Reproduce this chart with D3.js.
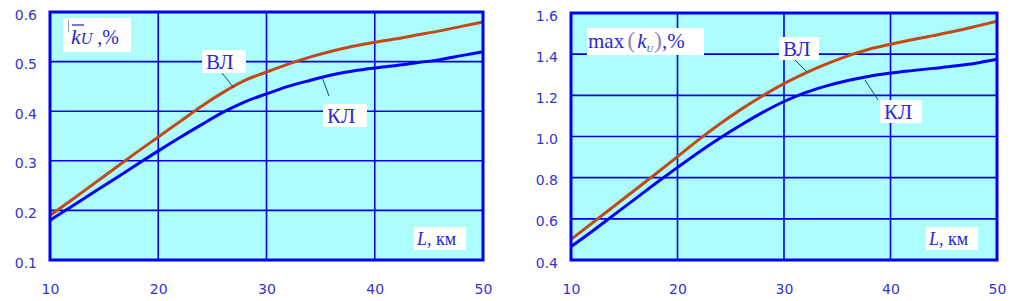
<!DOCTYPE html>
<html><head><meta charset="utf-8">
<script src="https://cdn.jsdelivr.net/npm/d3@7"></script>
<style>body{margin:0;background:#fff}svg{display:block}</style>
</head><body>
<svg id="c" width="1015" height="301"></svg>
<script>
const L = [10,12,14,16,18,20,22,24,26,28,30,32,34,36,38,40,42,44,46,48,50];
const vlMean = [0.19,0.221,0.253,0.285,0.317,0.348,0.379,0.41,0.438,0.462,0.479,0.495,0.509,0.521,0.531,0.539,0.546,0.554,0.562,0.571,0.58];
const klMean = [0.18,0.208,0.236,0.264,0.292,0.32,0.347,0.373,0.398,0.419,0.435,0.45,0.462,0.473,0.481,0.487,0.492,0.498,0.504,0.512,0.52];
const vlMax = [0.50,0.58,0.66,0.74,0.82,0.902,0.985,1.062,1.133,1.198,1.257,1.308,1.353,1.392,1.424,1.448,1.47,1.49,1.511,1.535,1.56];
const klMax = [0.465,0.54,0.618,0.696,0.774,0.85,0.924,0.993,1.057,1.117,1.17,1.213,1.246,1.272,1.293,1.308,1.32,1.331,1.342,1.356,1.375];
const xTicks = [10,20,30,40,50];
const yTicksMean = [0.1,0.2,0.3,0.4,0.5,0.6];
const yTicksMax = [0.4,0.6,0.8,1.0,1.2,1.4,1.6];

const svg = d3.select("#c");
const tickColor = "#3434d0", gridColor = "#0000e6", labColor = "#2a2ad0";

function panel(o){
  const x = d3.scaleLinear().domain([10,50]).range([o.x0,o.x1]);
  const y = d3.scaleLinear().domain(o.yDom).range([o.y1,o.y0]);
  const g = svg.append("g");
  g.append("rect").attr("x",o.x0).attr("y",o.y0).attr("width",o.x1-o.x0).attr("height",o.y1-o.y0).attr("fill","#adfdfd");
  g.selectAll(".gx").data(xTicks.slice(1,-1)).join("line").attr("x1",d=>x(d)).attr("x2",d=>x(d)).attr("y1",o.y0).attr("y2",o.y1).attr("stroke",gridColor).attr("stroke-width",1.6);
  g.selectAll(".gy").data(o.yTicks.slice(1,-1)).join("line").attr("y1",d=>y(d)).attr("y2",d=>y(d)).attr("x1",o.x0).attr("x2",o.x1).attr("stroke",gridColor).attr("stroke-width",1.6);
  const ax = g.append("g").attr("transform",`translate(0,${o.y1})`).call(d3.axisBottom(x).tickValues(xTicks).tickSize(0).tickPadding(23).tickFormat(d3.format("d")));
  ax.select(".domain").remove();
  ax.selectAll("text").attr("fill",tickColor).attr("font-family","DejaVu Sans").attr("font-size",14).attr("dy","0.8em");
  const ay = g.append("g").attr("transform",`translate(${o.x0},0)`).call(d3.axisLeft(y).tickValues(o.yTicks).tickSize(0).tickPadding(13).tickFormat(d3.format(".1f")));
  ay.select(".domain").remove();
  ay.selectAll("text").attr("fill",tickColor).attr("font-family","DejaVu Sans").attr("font-size",14).attr("dy","0.5em");
  function box(x0,y0,w,h){ g.append("rect").attr("x",x0).attr("y",y0).attr("width",w).attr("height",h).attr("fill","#fff"); }
  box(o.Lx-3,o.y1-33,52,23);
  const lt = g.append("text").attr("x",o.Lx).attr("y",o.y1-15).attr("font-family","Liberation Serif").attr("font-size",18).attr("fill",labColor);
  lt.append("tspan").attr("font-style","italic").text("L");
  lt.append("tspan").text(", км");
  const line = d3.line().x((d,i)=>x(L[i])).y(d=>y(d)).curve(d3.curveMonotoneX);
  g.append("path").datum(o.kl).attr("d",line).attr("fill","none").attr("stroke","#0000ff").attr("stroke-width",3);
  g.append("path").datum(o.vl).attr("d",line).attr("fill","none").attr("stroke","#c04a18").attr("stroke-width",3);
  g.append("rect").attr("x",o.x0).attr("y",o.y0).attr("width",o.x1-o.x0).attr("height",o.y1-o.y0).attr("fill","none").attr("stroke","#0000f0").attr("stroke-width",3);
  o.leaders.forEach(l=>g.append("line").attr("x1",l[0]).attr("y1",l[1]).attr("x2",l[2]).attr("y2",l[3]).attr("stroke","#1a4a6a").attr("stroke-width",1));
  o.tags.forEach(t=>{
    box(t.x-4,t.y-19,t.w,23);
    g.append("text").attr("x",t.x).attr("y",t.y).attr("font-family","Liberation Serif").attr("font-size",21).attr("fill",labColor).text(t.s);
  });
  return g;
}

const g1 = panel({x0:50,x1:483,y0:12,y1:260,yDom:[0.1,0.6],yTicks:yTicksMean,vl:vlMean,kl:klMean,Lx:417,
  leaders:[[222,73,234,88],[322,77,329,96]],
  tags:[{x:206,y:69,w:44,s:"ВЛ"},{x:327,y:123,w:44,s:"КЛ"}]});
const g2 = panel({x0:571,x1:997,y0:13,y1:260,yDom:[0.4,1.6],yTicks:yTicksMax,vl:vlMax,kl:klMax,Lx:929,
  leaders:[[792,57,807,72],[865,80,878,100]],
  tags:[{x:783,y:56,w:40,s:"ВЛ"},{x:884,y:119,w:42,s:"КЛ"}]});

g1.append("rect").attr("x",63).attr("y",18).attr("width",68).attr("height",34).attr("fill","#fff");
g1.append("line").attr("x1",68.5).attr("x2",68.5).attr("y1",20).attr("y2",32).attr("stroke","#9090c0").attr("stroke-width",1);
g1.append("line").attr("x1",72).attr("x2",84).attr("y1",25).attr("y2",25).attr("stroke",labColor).attr("stroke-width",1.3);
const t1 = g1.append("text").attr("x",71).attr("y",44).attr("font-family","Liberation Serif").attr("font-size",22).attr("fill",labColor);
t1.append("tspan").attr("font-style","italic").text("k");
t1.append("tspan").attr("font-style","italic").attr("font-size",16).text("U");
t1.append("tspan").attr("font-size",20).text(" ,%");

g2.append("rect").attr("x",587).attr("y",28).attr("width",117).attr("height",27).attr("fill","#fff");
const t2 = g2.append("text").attr("x",588).attr("y",48).attr("font-family","Liberation Serif").attr("font-size",21).attr("fill",labColor);
t2.append("tspan").text("max");
t2.append("tspan").attr("fill","#8a8ab8").attr("font-size",24).attr("dx",3).text("(");
t2.append("tspan").attr("font-style","italic").attr("dx",2).text("k");
t2.append("tspan").attr("font-style","italic").attr("font-size",9).attr("dy",4).text("U");
t2.append("tspan").attr("fill","#8a8ab8").attr("font-size",24).attr("dy",-4).attr("dx",1).text(")");
t2.append("tspan").text(",%");
</script>
</body></html>
